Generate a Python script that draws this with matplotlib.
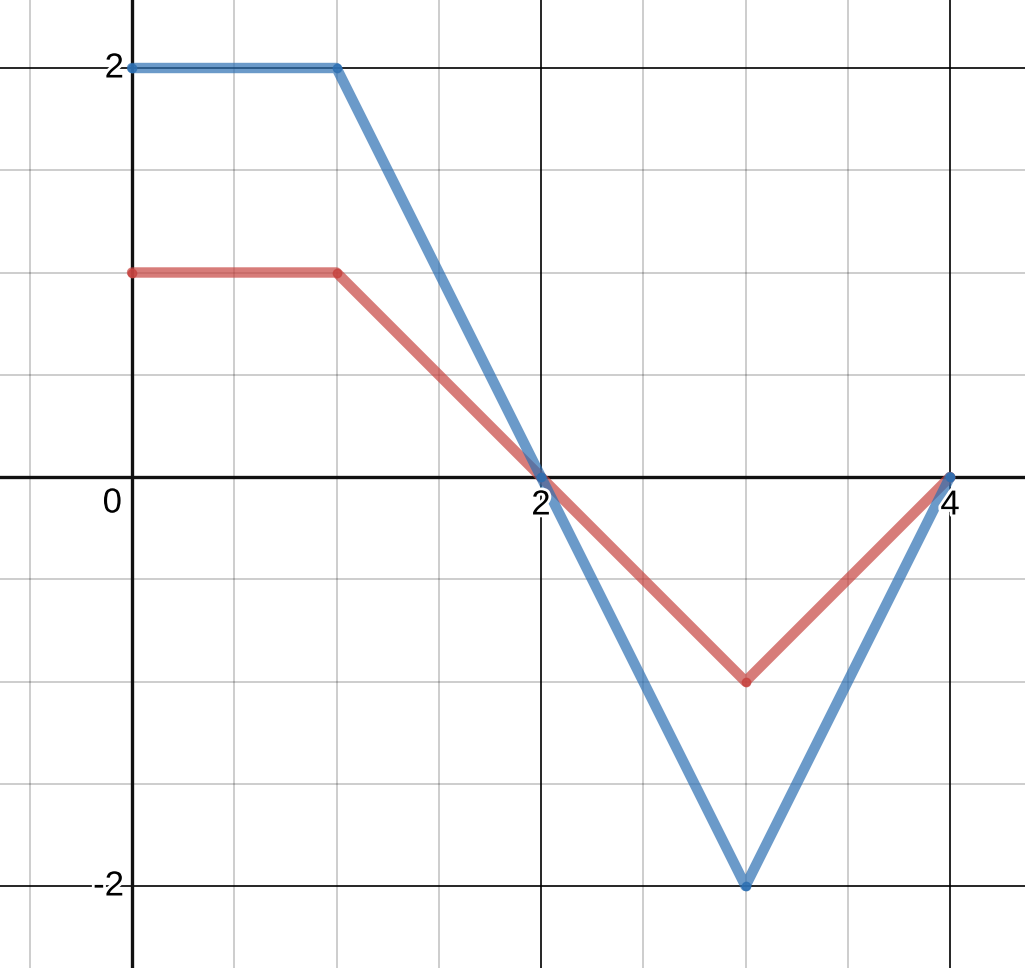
import matplotlib
matplotlib.use("Agg")
import matplotlib.pyplot as plt
import matplotlib.patheffects as pe
import numpy as np

x_vals = [0, 1, 2, 3, 4]
blue_vals = [2, 2, 0, -2, 0]
red_vals = [1, 1, 0, -1, 0]
x_tick_labels = {0: "0", 2: "2", 4: "4"}
y_tick_labels = {2: "2", -2: "-2"}

W, H = 1025, 968
fig = plt.figure(figsize=(W / 100, H / 100), dpi=100)
ax = fig.add_axes([0, 0, 1, 1])

unit = 204.5
x0_px, y0_px = 132, 477
xmin = -x0_px / unit
xmax = (W - x0_px) / unit
ymax = y0_px / unit
ymin = -(H - y0_px) / unit
ax.set_xlim(xmin, xmax)
ax.set_ylim(ymin, ymax)
ax.axis("off")

# minor grid
for g in np.arange(-0.5, 4.5 + 0.01, 0.5):
    if abs(g / 2 - round(g / 2)) > 1e-6:
        ax.axvline(g, color="black", alpha=0.25, lw=1.1, zorder=1)
for g in np.arange(-2.5, 2.5 + 0.01, 0.5):
    if abs(g / 2 - round(g / 2)) > 1e-6:
        ax.axhline(g, color="black", alpha=0.25, lw=1.1, zorder=1)
# major grid
for g in [2, 4]:
    ax.axvline(g, color="black", lw=1.2, zorder=2)
for g in [2, -2]:
    ax.axhline(g, color="black", lw=1.2, zorder=2)
# axes
ax.axvline(0, color="#111111", lw=2.4, zorder=3)
ax.axhline(0, color="#111111", lw=2.4, zorder=3)

ax.plot(x_vals, red_vals, color="#c74440", lw=7.5, alpha=0.7,
        solid_capstyle="round", solid_joinstyle="round", zorder=5)
ax.plot(x_vals, red_vals, "o", color="#c74440", ms=6, alpha=0.8, zorder=6)
ax.plot(x_vals, blue_vals, color="#2d70b3", lw=7.5, alpha=0.7,
        solid_capstyle="round", solid_joinstyle="round", zorder=7)
ax.plot(x_vals, blue_vals, "o", color="#2d70b3", ms=6, alpha=0.8, zorder=8)

effects = [pe.withStroke(linewidth=4, foreground="white")]
fs = 25
for v, s in x_tick_labels.items():
    if v == 0:
        ax.text(v - 10 / unit, -26 / unit, s, ha="right", va="center",
                fontsize=fs, family="Liberation Sans", path_effects=effects, zorder=10)
    else:
        ax.text(v, -28 / unit, s, ha="center", va="center",
                fontsize=fs, family="Liberation Sans", path_effects=effects, zorder=10)
for v, s in y_tick_labels.items():
    ax.text(-8 / unit, v, s, ha="right", va="center",
            fontsize=fs, family="Liberation Sans", path_effects=effects, zorder=10)

fig.savefig("out.png", dpi=100)
